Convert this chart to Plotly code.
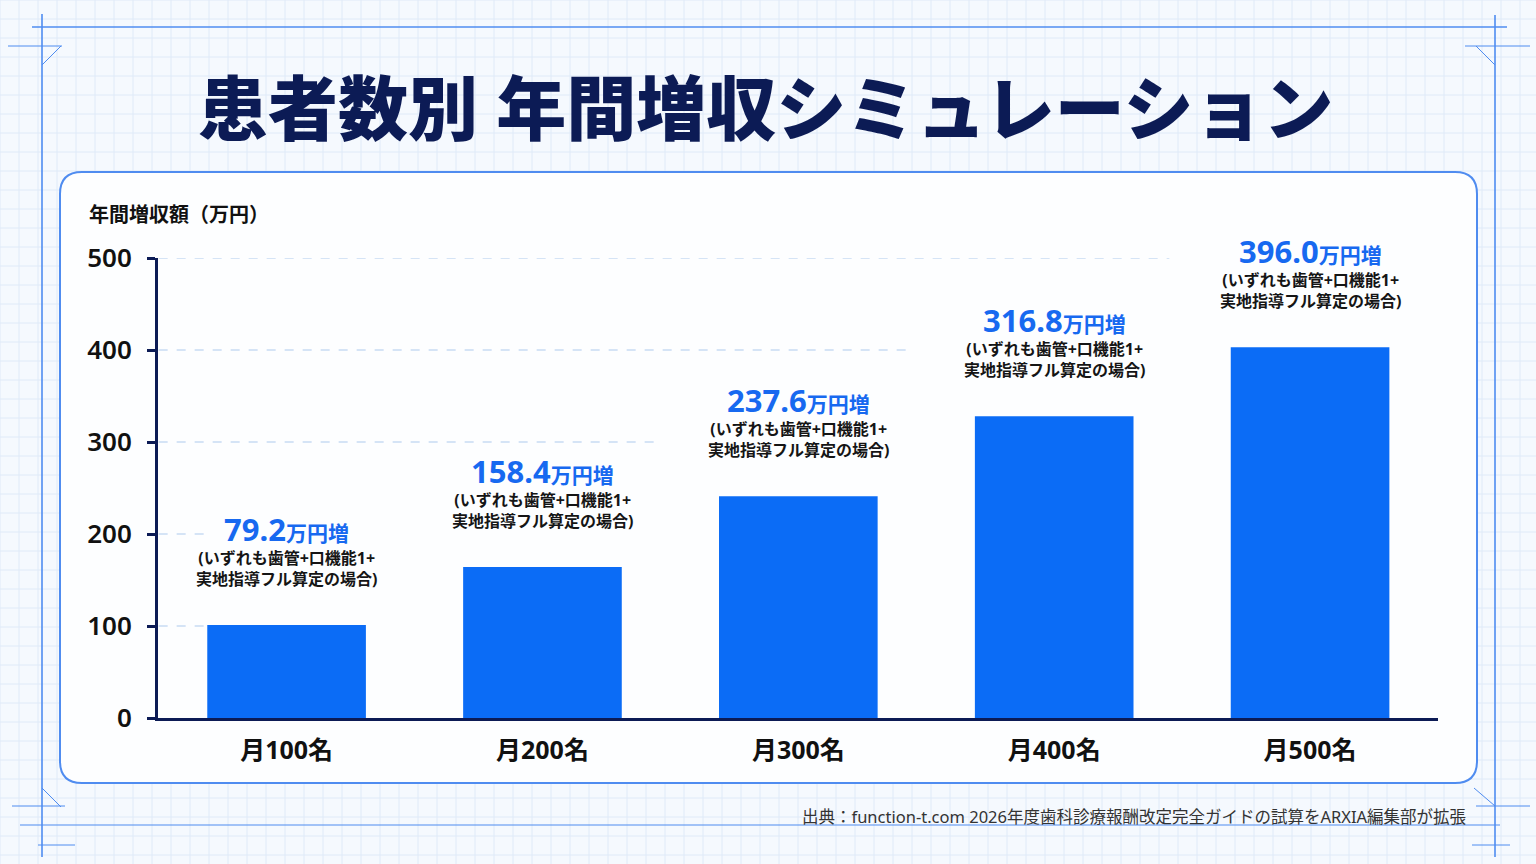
import plotly.graph_objects as go

# data
categories = ["月100名", "月200名", "月300名", "月400名", "月500名"]
bar_heights = [101, 164, 241, 328, 403]
value_labels = ["79.2", "158.4", "237.6", "316.8", "396.0"]
note_text = "(いずれも歯管+口機能1+<br>実地指導フル算定の場合)"
y_ticks = [0, 100, 200, 300, 400, 500]

title = "患者数別 年間増収シミュレーション"
y_title = "年間増収額（万円）"
source = "出典：function-t.com 2026年度歯科診療報酬改定完全ガイドの試算をARXIA編集部が拡張"

FONT = "Noto Sans, Noto Sans CJK JP"
NAVY = "#0c1b55"
BLUE = "#0b6cf6"
LINE = "#4f8cf0"

W, H = 1536, 864
L, R, T, B = 158, 1438, 258, 718


# pixel -> paper helpers for decoration
def px(x):
    return (x - L) / (R - L)


def py(y):
    return (B - y) / (B - T)


shapes = []

# faint background grid
for gx in range(0, W + 1, 19):
    shapes.append(dict(type="line", xref="paper", yref="paper", x0=px(gx), x1=px(gx),
                       y0=py(0), y1=py(H), line=dict(color="#dfeaf8", width=1), layer="below"))
for gy in range(0, H + 1, 19):
    shapes.append(dict(type="line", xref="paper", yref="paper", x0=px(0), x1=px(W),
                       y0=py(gy), y1=py(gy), line=dict(color="#dfeaf8", width=1), layer="below"))

# frame decoration
frame = [
    (32, 27, 1507, 27, 1.6), (42, 14, 42, 857, 1.6), (1495, 15, 1495, 857, 1.6),
    (20, 825, 1500, 825, 1.2), (8, 46, 62, 46, 1), (1465, 46, 1530, 46, 1),
    (61, 46, 42, 65, 1), (1476, 46, 1495, 65, 1), (42, 788, 61, 807, 1),
    (12, 806, 65, 806, 1), (1476, 806, 1530, 806, 1), (1474, 788, 1495, 806, 1),
    (38, 845, 75, 845, 1), (1472, 845, 1510, 845, 1),
]
for x0, y0, x1, y1, w in frame:
    shapes.append(dict(type="line", xref="paper", yref="paper", x0=px(x0), x1=px(x1),
                       y0=py(y0), y1=py(y1), line=dict(color=LINE, width=w), layer="below"))

# rounded white panel
pl, pr, pt, pb, rr = 60, 1477, 172, 783, 22
path = (f"M {px(pl + rr)},{py(pt)} L {px(pr - rr)},{py(pt)} Q {px(pr)},{py(pt)} {px(pr)},{py(pt + rr)} "
        f"L {px(pr)},{py(pb - rr)} Q {px(pr)},{py(pb)} {px(pr - rr)},{py(pb)} "
        f"L {px(pl + rr)},{py(pb)} Q {px(pl)},{py(pb)} {px(pl)},{py(pb - rr)} "
        f"L {px(pl)},{py(pt + rr)} Q {px(pl)},{py(pt)} {px(pl + rr)},{py(pt)} Z")
shapes.append(dict(type="path", xref="paper", yref="paper", path=path,
                   fillcolor="#fdfeff", line=dict(color=LINE, width=2), layer="below"))

# dashed gridlines that stop where the bars/labels begin
for v in y_ticks[1:]:
    end = len(categories) - 0.5
    for i, h in enumerate(bar_heights):
        if h + 120 > v:
            end = max(i - 0.55, -0.3)
            break
    shapes.append(dict(type="line", xref="x", yref="y", x0=-0.5, x1=end, y0=v, y1=v,
                       line=dict(color="#c8dbf4", width=1.3, dash="dash"), layer="below"))

fig = go.Figure()
fig.add_trace(go.Bar(x=categories, y=bar_heights, marker=dict(color=BLUE, line=dict(width=0)),
                     width=0.62, hoverinfo="skip"))

annotations = []
for c, h, lab in zip(categories, bar_heights, value_labels):
    annotations.append(dict(x=c, y=h, xref="x", yref="y", yanchor="middle", yshift=96,
                            showarrow=False,
                            text=f"<b>{lab}</b><span style='font-size:21px'><b>万円増</b></span>",
                            font=dict(family=FONT, size=31, color="#1769f0")))
    annotations.append(dict(x=c, y=h, xref="x", yref="y", yanchor="middle", yshift=57,
                            showarrow=False, text=f"<b>{note_text}</b>",
                            font=dict(family=FONT, size=16, color="#151515")))

annotations.append(dict(x=px(765), y=py(108), xref="paper", yref="paper", showarrow=False,
                        xanchor="center", yanchor="middle", text=title,
                        font=dict(family=FONT, size=70, color=NAVY, weight=900)))
annotations.append(dict(x=px(87), y=py(214), xref="paper", yref="paper", showarrow=False,
                        xanchor="left", yanchor="middle", text=f"<b>{y_title}</b>",
                        font=dict(family=FONT, size=20, color="#111111")))
annotations.append(dict(x=px(1469), y=py(816), xref="paper", yref="paper", showarrow=False,
                        xanchor="right", yanchor="middle", text=source,
                        font=dict(family=FONT, size=16.5, color="#333333")))

fig.update_layout(
    width=W, height=H,
    margin=dict(l=L, r=W - R, t=T, b=H - B),
    paper_bgcolor="#f5f9fe",
    plot_bgcolor="rgba(0,0,0,0)",
    showlegend=False,
    shapes=shapes,
    annotations=annotations,
    font=dict(family=FONT),
    xaxis=dict(
        showline=True, linecolor=NAVY, linewidth=3, showgrid=False, ticks="",
        tickfont=dict(family=FONT, size=25, color="#111111", weight="bold"),
        ticklabelstandoff=8, fixedrange=True,
    ),
    yaxis=dict(
        range=[0, 500], tickvals=y_ticks, showline=True, linecolor=NAVY, linewidth=3,
        showgrid=False, zeroline=False, ticks="outside", ticklen=8, tickwidth=2.5,
        tickcolor=NAVY, ticklabelstandoff=10,
        tickfont=dict(family=FONT, size=26, color="#111111", weight=600),
        fixedrange=True,
    ),
)

fig.write_html("out.html", config={"displayModeBar": False},
               post_script="document.body.style.margin='0';")
